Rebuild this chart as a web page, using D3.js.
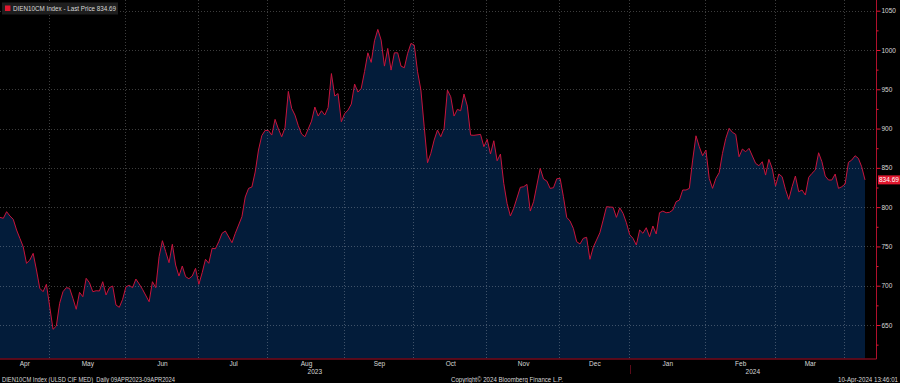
<!DOCTYPE html>
<html>
<head>
<meta charset="utf-8">
<script src="https://cdn.jsdelivr.net/npm/d3@7"></script>
<style>
  html, body { margin: 0; padding: 0; background: #000; }
  svg { display: block; }
  text { font-family: "Liberation Sans", Arial, sans-serif; }
</style>
</head>
<body>
<svg id="chart" width="900" height="383"></svg>
<script>
// ---- data ----
const ticker = "DIEN10CM Index";
const startDate = "2023-04-10";          // first trading day shown
const tradingDays = 262;                 // weekdays 10-Apr-2023 .. 09-Apr-2024
const tradingDay = [0,1,2,3,4,5,6,7,8,9,10,11,12,13,14,15,16,17,18,19,20,21,22,23,24,25,26,27,28,29,30,31,32,33,34,35,36,37,38,39,40,41,42,43,45,46,47,48,49,50,51,52,53,54,55,56,57,58,59,60,61,62,63,64,65,66,67,68,70,71,73,74,75,76,77,78,79,80,81,82,83,84,85,86,87,88,89,90,91,92,94,95,96,97,98,99,100,101,102,103,104,105,106,107,108,109,110,111,112,113,114,115,116,117,118,119,120,121,122,123,124,125,126,127,128,129,130,131,132,133,134,135,136,137,138,139,140,141,142,143,145,146,147,148,149,150,151,152,153,154,155,157,158,159,160,161,162,163,164,165,166,167,168,169,170,171,172,173,174,175,176,177,178,179,180,181,182,183,184,185,186,187,188,189,190,191,192,193,194,195,196,197,198,199,200,201,202,203,204,205,206,207,208,209,210,211,212,213,214,215,216,217,218,219,220,221,222,223,224,225,226,228,229,230,231,232,233,234,235,236,237,238,239,240,241,242,243,244,245,246,247,248,249,250,251,252,253,254,255,256,257,258,259,260,261];
const price = [787.0,785.8,794.2,788.7,784.5,770.9,760.3,749.6,728.5,732.7,741.2,720.0,696.7,692.4,701.8,673.3,644.5,648.7,677.6,692.4,697.5,696.7,684.0,670.0,691.6,686.0,709.4,703.8,692.4,693.6,693.3,705.1,688.2,697.5,699.6,675.4,672.5,682.7,698.7,700.5,697.5,708.5,702.2,695.4,679.6,705.1,697.5,736.9,757.3,743.3,729.3,752.7,726.3,712.3,725.1,711.5,708.9,712.3,722.1,701.8,716.5,733.6,728.5,747.6,747.1,756.0,766.7,769.6,754.7,766.7,787.8,812.9,823.9,825.6,844.7,872.7,891.1,897.7,897.5,891.7,911.7,899.4,889.6,901.3,947.3,925.7,917.2,903.8,893.0,889.6,909.5,927.4,915.9,922.7,917.2,926.7,970.0,941.4,944.5,908.7,919.1,923.5,931.2,956.6,946.4,951.2,972.5,996.4,984.2,1011.7,1026.2,1012.6,979.5,1002.0,974.4,996.4,996.4,979.5,977.4,995.7,1008.4,1006.2,972.3,949.0,902.3,856.5,868.5,885.4,898.1,889.6,900.3,949.0,940.5,915.9,924.4,922.7,943.9,928.6,891.7,891.4,892.6,876.9,886.3,867.6,884.5,859.0,867.6,830.3,804.8,788.7,798.5,825.2,826.0,829.0,795.0,806.9,828.1,849.4,835.8,833.2,823.9,824.7,836.1,836.6,813.2,787.0,782.3,773.0,756.0,753.1,760.3,761.6,733.6,748.9,758.1,767.4,783.6,800.5,800.1,799.8,787.0,799.2,792.1,780.2,764.9,760.3,751.8,770.9,766.7,773.8,762.3,776.0,765.8,792.9,795.0,792.9,793.4,796.3,806.9,809.0,821.8,821.8,823.9,859.9,890.8,876.9,865.4,872.7,836.6,823.9,836.6,843.8,868.5,887.5,900.3,895.2,892.6,864.1,873.9,870.5,874.8,855.7,852.7,857.8,840.8,860.8,849.4,826.9,842.1,838.7,822.7,809.9,826.0,839.6,819.6,821.8,815.4,837.9,843.0,847.2,869.2,857.8,839.6,834.5,834.5,842.1,823.9,826.0,829.4,857.0,859.9,865.4,862.1,851.4,834.69];
const lastPrice = 834.69;
const monthLabels = ["Apr","May","Jun","Jul","Aug","Sep","Oct","Nov","Dec","Jan","Feb","Mar"];
const yearLabels = ["2023","2024"];
const yTicks = [650,700,750,800,850,900,950,1000,1050];
const yMinorTicks = [625,675,725,775,825,875,925,975,1025];
const footerLeft = "DIEN10CM Index (ULSD CIF MED)  Daily 09APR2023-09APR2024";
const footerMid = "Copyright\u00A9 2024 Bloomberg Finance L.P.";
const footerRight = "10-Apr-2024 13:46:01";

// ---- layout ----
const W = 900, H = 383;
const plot = { left: 0, right: 876, top: 0, bottom: 358.5 };
const fontSize = 6.5;
const red = "#c8143c", axisRed = "#b0102c", textCol = "#d8d8d8";

const svg = d3.select("#chart");
svg.append("rect").attr("width", W).attr("height", H).attr("fill", "#000");

// trading calendar (weekdays) for month boundaries
const dates = [];
{
  let d = new Date(startDate + "T00:00:00");
  while (dates.length < tradingDays) {
    const wd = d.getDay();
    if (wd !== 0 && wd !== 6) dates.push(new Date(d));
    d.setDate(d.getDate() + 1);
  }
}
const monthStarts = [];
for (let i = 1; i < dates.length; i++) {
  if (dates[i].getMonth() !== dates[i - 1].getMonth()) monthStarts.push(i);
}
const yearStart = monthStarts.find(i => dates[i].getMonth() === 0);

const x = d3.scaleLinear().domain([0, tradingDays - 1]).range([0, 865]);
const y = d3.scaleLinear().domain([650, 1050]).range([325, 10.7]);

const data = tradingDay.map((t, i) => ({ day: t, price: price[i] }));

svg.append("clipPath").attr("id", "clip").append("rect")
  .attr("x", plot.left).attr("y", plot.top)
  .attr("width", plot.right - plot.left).attr("height", plot.bottom - plot.top);

const g = svg.append("g").attr("clip-path", "url(#clip)");

g.append("path").datum(data)
  .attr("fill", "#031c3a")
  .attr("d", d3.area().x(d => x(d.day)).y0(plot.bottom).y1(d => y(d.price)));

// gridlines
const grid = g.append("g").attr("stroke", "#ffffff").attr("stroke-opacity", 0.24)
  .attr("stroke-width", 1).attr("stroke-dasharray", "1,2");
grid.selectAll("line.h").data(yTicks).join("line").attr("class", "h")
  .attr("x1", plot.left).attr("x2", plot.right)
  .attr("y1", d => Math.round(y(d)) + 0.5).attr("y2", d => Math.round(y(d)) + 0.5);
grid.selectAll("line.v").data(monthStarts).join("line").attr("class", "v")
  .attr("y1", plot.top).attr("y2", plot.bottom)
  .attr("x1", d => Math.round(x(d)) - 0.5).attr("x2", d => Math.round(x(d)) - 0.5);

g.append("path").datum(data)
  .attr("fill", "none").attr("stroke", red).attr("stroke-width", 1)
  .attr("stroke-linejoin", "round")
  .attr("d", d3.line().x(d => x(d.day)).y(d => y(d.price)));

// axis frame lines
svg.append("line").attr("x1", 0).attr("x2", plot.right + 0.5)
  .attr("y1", plot.bottom + 0.5).attr("y2", plot.bottom + 0.5)
  .attr("stroke", axisRed).attr("stroke-width", 1);
svg.append("line").attr("x1", plot.right + 0.5).attr("x2", plot.right + 0.5)
  .attr("y1", 0).attr("y2", plot.bottom + 0.5)
  .attr("stroke", axisRed).attr("stroke-width", 1);

// right axis
const yAxis = svg.append("g").attr("transform", `translate(${plot.right + 0.5},0)`)
  .call(d3.axisRight(y).tickValues(yTicks).tickSize(4).tickPadding(1).tickFormat(d3.format("d")));
yAxis.select(".domain").remove();
yAxis.selectAll(".tick line").attr("stroke", "#e0182f");
yAxis.selectAll(".tick text").attr("fill", textCol).attr("font-size", fontSize)
  .attr("font-family", "Liberation Sans, Arial, sans-serif");
const yMinor = svg.append("g").attr("transform", `translate(${plot.right + 0.5},0)`)
  .call(d3.axisRight(y).tickValues(yMinorTicks).tickSize(2).tickFormat(""));
yMinor.select(".domain").remove();
yMinor.selectAll(".tick line").attr("stroke", "#e0182f");

// last price tag
const ty = y(lastPrice);
svg.append("rect").attr("x", 878).attr("y", ty - 4.5).attr("width", 22).attr("height", 9)
  .attr("fill", "#e0182f");
svg.append("text").attr("x", 879).attr("y", ty + 2.3).attr("fill", "#fff")
  .attr("font-size", fontSize).text(d3.format(".2f")(lastPrice));

// month labels centred in each month span
const bounds = [0, ...monthStarts];
const monthEnds = [...monthStarts, null];
svg.append("g").selectAll("text").data(monthLabels).join("text")
  .attr("x", (d, i) => {
    const a = x(bounds[i]);
    const b = monthEnds[i] == null ? plot.right : x(monthEnds[i]);
    return (a + b) / 2;
  })
  .attr("y", 366).attr("text-anchor", "middle")
  .attr("fill", textCol).attr("font-size", fontSize).text(d => d);

// year labels
const yearSpans = [[0, x(yearStart)], [x(yearStart), plot.right]];
svg.append("g").selectAll("text").data(yearLabels).join("text")
  .attr("x", (d, i) => (yearSpans[i][0] + yearSpans[i][1]) / 2)
  .attr("y", 373.5).attr("text-anchor", "middle")
  .attr("fill", textCol).attr("font-size", fontSize).text(d => d);
svg.append("line").attr("x1", Math.round(x(yearStart)) + 0.5).attr("x2", Math.round(x(yearStart)) + 0.5)
  .attr("y1", 365).attr("y2", 374).attr("stroke", "#5a0a18").attr("stroke-width", 1);

// footer
svg.append("text").attr("x", 2).attr("y", 381.5).attr("fill", textCol)
  .attr("font-size", fontSize).attr("xml:space", "preserve").style("white-space", "pre")
  .attr("textLength", 173).attr("lengthAdjust", "spacingAndGlyphs").text(footerLeft);
svg.append("text").attr("x", 451).attr("y", 381.5).attr("fill", textCol)
  .attr("font-size", fontSize).attr("textLength", 112).attr("lengthAdjust", "spacingAndGlyphs")
  .text(footerMid);
svg.append("text").attr("x", 838).attr("y", 381.5).attr("fill", textCol)
  .attr("font-size", fontSize).attr("textLength", 60).attr("lengthAdjust", "spacingAndGlyphs")
  .text(footerRight);

// legend
const leg = svg.append("g");
leg.append("rect").attr("x", 2).attr("y", 2.5).attr("width", 116).attr("height", 12)
  .attr("fill", "#1e1e1e");
leg.append("rect").attr("x", 5).attr("y", 5.5).attr("width", 5.5).attr("height", 5.5)
  .attr("fill", "#e0182f");
leg.append("text").attr("x", 13).attr("y", 11).attr("fill", textCol).attr("font-size", fontSize)
  .attr("textLength", 103).attr("lengthAdjust", "spacingAndGlyphs")
  .text(`${ticker} - Last Price ${d3.format(".2f")(lastPrice)}`);
</script>
</body>
</html>
